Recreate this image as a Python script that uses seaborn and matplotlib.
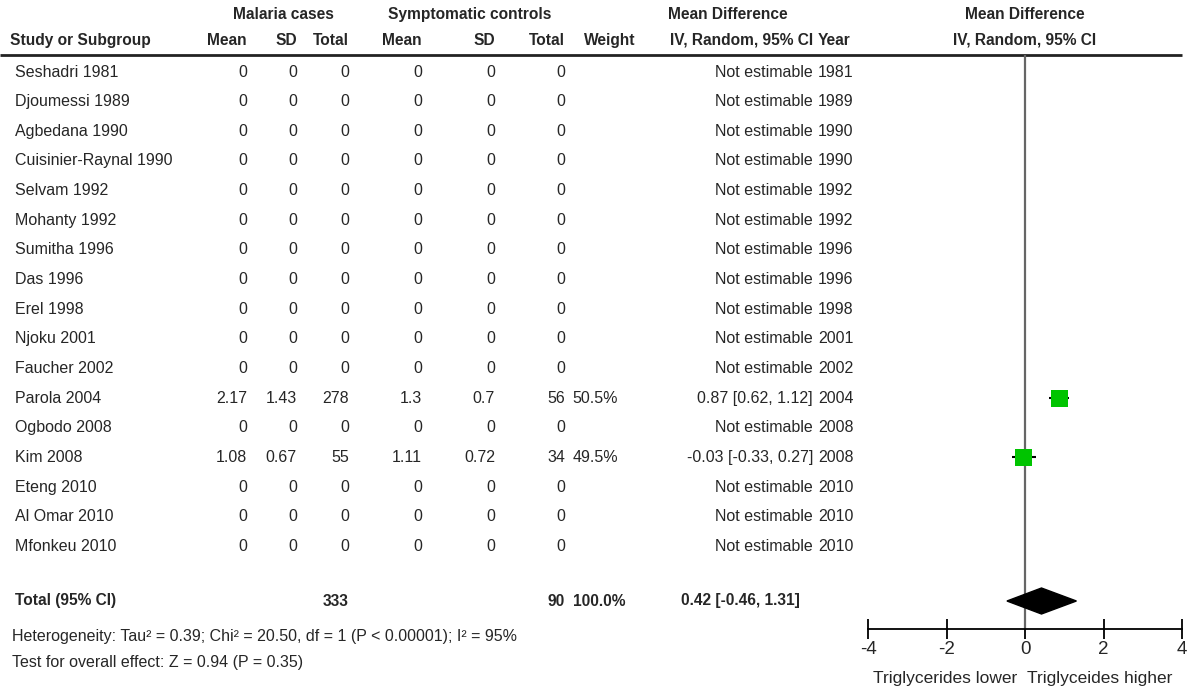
import numpy as np
import pandas as pd
import matplotlib
matplotlib.use("Agg")
import matplotlib.pyplot as plt
import seaborn as sns

# Study data
studies = ["Seshadri 1981", "Djoumessi 1989", "Agbedana 1990", "Cuisinier-Raynal 1990",
           "Selvam 1992", "Mohanty 1992", "Sumitha 1996", "Das 1996", "Erel 1998",
           "Njoku 2001", "Faucher 2002", "Parola 2004", "Ogbodo 2008", "Kim 2008",
           "Eteng 2010", "Al Omar 2010", "Mfonkeu 2010"]
years = [1981, 1989, 1990, 1990, 1992, 1992, 1996, 1996, 1998, 2001, 2002, 2004,
         2008, 2008, 2010, 2010, 2010]
case_mean = [0, 0, 0, 0, 0, 0, 0, 0, 0, 0, 0, 2.17, 0, 1.08, 0, 0, 0]
case_sd = [0, 0, 0, 0, 0, 0, 0, 0, 0, 0, 0, 1.43, 0, 0.67, 0, 0, 0]
case_n = [0, 0, 0, 0, 0, 0, 0, 0, 0, 0, 0, 278, 0, 55, 0, 0, 0]
ctrl_mean = [0, 0, 0, 0, 0, 0, 0, 0, 0, 0, 0, 1.3, 0, 1.11, 0, 0, 0]
ctrl_sd = [0, 0, 0, 0, 0, 0, 0, 0, 0, 0, 0, 0.7, 0, 0.72, 0, 0, 0]
ctrl_n = [0, 0, 0, 0, 0, 0, 0, 0, 0, 0, 0, 56, 0, 34, 0, 0, 0]
weight = [np.nan] * 11 + [50.5, np.nan, 49.5, np.nan, np.nan, np.nan]
md = [np.nan] * 11 + [0.87, np.nan, -0.03, np.nan, np.nan, np.nan]
md_lo = [np.nan] * 11 + [0.62, np.nan, -0.33, np.nan, np.nan, np.nan]
md_hi = [np.nan] * 11 + [1.12, np.nan, 0.27, np.nan, np.nan, np.nan]

total_cases = 333
total_ctrl = 90
pooled = (0.42, -0.46, 1.31)
het_text = "Heterogeneity: Tau² = 0.39; Chi² = 20.50, df = 1 (P < 0.00001); I² = 95%"
effect_text = "Test for overall effect: Z = 0.94 (P = 0.35)"
ticks = [-4, -2, 0, 2, 4]

sns.set_theme(style="white")
plt.rcParams["font.family"] = ["Liberation Sans", "DejaVu Sans"]

W, H = 1200, 694
fig = plt.figure(figsize=(W / 100, H / 100), dpi=100)

# table layer in pixel coordinates
tab = fig.add_axes([0, 0, 1, 1])
tab.set_xlim(0, W)
tab.set_ylim(H, 0)
tab.axis("off")

# forest layer
ax = fig.add_axes([868 / W, 0, 314 / W, 1])
ax.set_xlim(-4, 4)
ax.set_ylim(H, 0)
ax.patch.set_alpha(0)

row_y = 72 + 29.65 * np.arange(len(studies))
fs = 11.5
fb = 11.2

def fmt(v):
    return f"{v:g}"

# headers
hb = dict(fontsize=fb, fontweight="bold", va="center")
tab.text(283, 14, "Malaria cases", ha="center", **hb)
tab.text(470, 14, "Symptomatic controls", ha="center", **hb)
tab.text(728, 14, "Mean Difference", ha="center", **hb)
tab.text(1025, 14, "Mean Difference", ha="center", **hb)
tab.text(10, 40, "Study or Subgroup", ha="left", **hb)
cols = [247, 297, 349, 422, 495, 565]
for x, lab in zip(cols, ["Mean", "SD", "Total", "Mean", "SD", "Total"]):
    tab.text(x, 40, lab, ha="right", **hb)
tab.text(635, 40, "Weight", ha="right", **hb)
tab.text(813, 40, "IV, Random, 95% CI", ha="right", **hb)
tab.text(818, 40, "Year", ha="left", **hb)
tab.text(1025, 40, "IV, Random, 95% CI", ha="center", **hb)
tab.plot([0, 1182], [55, 55], color="#222222", lw=2, solid_capstyle="butt")

# rows
rn = dict(fontsize=fs, va="center")
for i, y in enumerate(row_y):
    tab.text(15, y, studies[i], ha="left", **rn)
    vals = [case_mean[i], case_sd[i], case_n[i], ctrl_mean[i], ctrl_sd[i], ctrl_n[i]]
    for x, v in zip(cols, vals):
        tab.text(x, y, fmt(v), ha="right", **rn)
    if np.isnan(md[i]):
        tab.text(813, y, "Not estimable", ha="right", **rn)
    else:
        tab.text(618, y, f"{weight[i]:.1f}%", ha="right", **rn)
        tab.text(813, y, f"{md[i]:.2f} [{md_lo[i]:.2f}, {md_hi[i]:.2f}]", ha="right", **rn)
    tab.text(818, y, str(years[i]), ha="left", **rn)

# totals
ty = 601
tab.text(15, ty, "Total (95% CI)", ha="left", **hb)
tab.text(cols[2], ty, str(total_cases), ha="right", **hb)
tab.text(cols[5], ty, str(total_ctrl), ha="right", **hb)
tab.text(626, ty, "100.0%", ha="right", **hb)
tab.text(800, ty, f"{pooled[0]:.2f} [{pooled[1]:.2f}, {pooled[2]:.2f}]", ha="right", **hb)
tab.text(12, 636, het_text, ha="left", **rn)
tab.text(12, 663, effect_text, ha="left", **rn)

# forest marks
df = pd.DataFrame({"md": md, "lo": md_lo, "hi": md_hi, "w": weight, "y": row_y}).dropna()
ax.vlines(0, 55, 629, color="#666666", lw=1.6, zorder=1)
ax.hlines(df["y"], df["lo"], df["hi"], color="black", lw=1.5, zorder=2)
sns.scatterplot(data=df, x="md", y="y", size="w", sizes=(150, 155), marker="s",
                color="#00c400", edgecolor="none", legend=False, ax=ax, zorder=3)
est, lo, hi = pooled
ax.fill([lo, est, hi, est], [ty, ty - 13, ty, ty + 13], color="black", zorder=3)

for s in ["top", "left", "right"]:
    ax.spines[s].set_visible(False)
ax.spines["bottom"].set_position(("data", 629))
ax.spines["bottom"].set_color("black")
ax.spines["bottom"].set_linewidth(1.3)
ax.set_xticks(ticks)
ax.set_xticklabels([str(t) for t in ticks])
ax.tick_params(axis="x", direction="inout", length=14, width=1.3, labelsize=13.5,
               pad=2, bottom=True, color="black")
ax.set_yticks([])
ax.set_xlabel("")
ax.set_ylabel("")
tab.text(945, 678, "Triglycerides lower", ha="center", fontsize=12.5, va="center")
tab.text(1100, 678, "Triglyceides higher", ha="center", fontsize=12.5, va="center")

fig.savefig("out.png", dpi=100)
